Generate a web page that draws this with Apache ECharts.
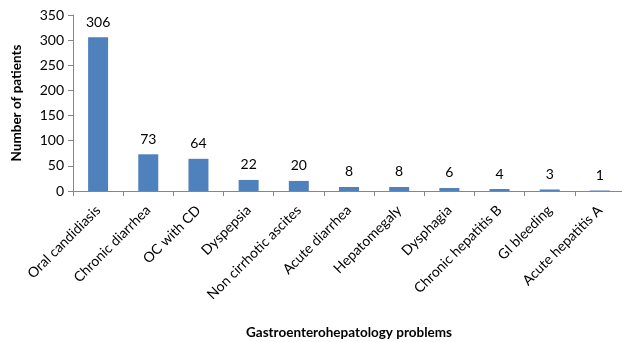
<!DOCTYPE html>
<html lang="en">
  <head>
    <meta charset="UTF-8" />
    <title>Gastroenterohepatology problems</title>
    <script src="https://cdn.jsdelivr.net/npm/echarts@6.0.0/dist/echarts.min.js"></script>
  </head>
  <body style="margin: 0">
    <div id="main" style="width: 622px; height: 342px"></div>
    <script type="text/javascript">
      // data
      const categories = [
        "Oral candidiasis",
        "Chronic diarrhea",
        "OC with CD",
        "Dyspepsia",
        "Non cirrhotic ascites",
        "Acute diarrhea",
        "Hepatomegaly",
        "Dysphagia",
        "Chronic hepatitis B",
        "GI bleeding",
        "Acute hepatitis A",
      ];
      const patients = [306, 73, 64, 22, 20, 8, 8, 6, 4, 3, 1];

      const font = "Lato, 'Open Sans', sans-serif";
      const axisGrey = "#868686";

      let myChart = echarts.init(document.getElementById("main"));
      myChart.setOption({
        animation: false,
        grid: { left: 73, top: 15, width: 552, height: 176, outerBoundsMode: "none", containLabel: false },
        xAxis: {
          type: "category",
          data: categories,
          name: "Gastroenterohepatology problems",
          nameLocation: "middle",
          nameGap: 135,
          nameTextStyle: { fontFamily: font, fontWeight: "bold", fontSize: 13.5, color: "#000" },
          axisLine: { lineStyle: { color: axisGrey } },
          axisTick: { show: true, alignWithLabel: false, length: 5, lineStyle: { color: axisGrey } },
          axisLabel: { rotate: 45, interval: 0, fontFamily: font, fontSize: 14, color: "#000", margin: 17 },
        },
        yAxis: {
          type: "value",
          min: 0,
          max: 350,
          interval: 50,
          name: "Number of patients",
          nameLocation: "middle",
          nameGap: 49,
          nameTextStyle: { fontFamily: font, fontWeight: "bold", fontSize: 13.5, color: "#000" },
          axisLine: { show: true, lineStyle: { color: axisGrey } },
          axisTick: { show: true, length: 5, lineStyle: { color: axisGrey } },
          splitLine: { show: false },
          axisLabel: { fontFamily: font, fontSize: 14, color: "#000", margin: 9 },
        },
        series: [
          {
            name: "Number of patients",
            type: "bar",
            data: patients,
            barWidth: 20,
            itemStyle: { color: "#4f81bd" },
            label: {
              show: true,
              position: "top",
              distance: 8,
              fontFamily: font,
              fontSize: 14,
              color: "#000",
            },
          },
        ],
      });
    </script>
  </body>
</html>
